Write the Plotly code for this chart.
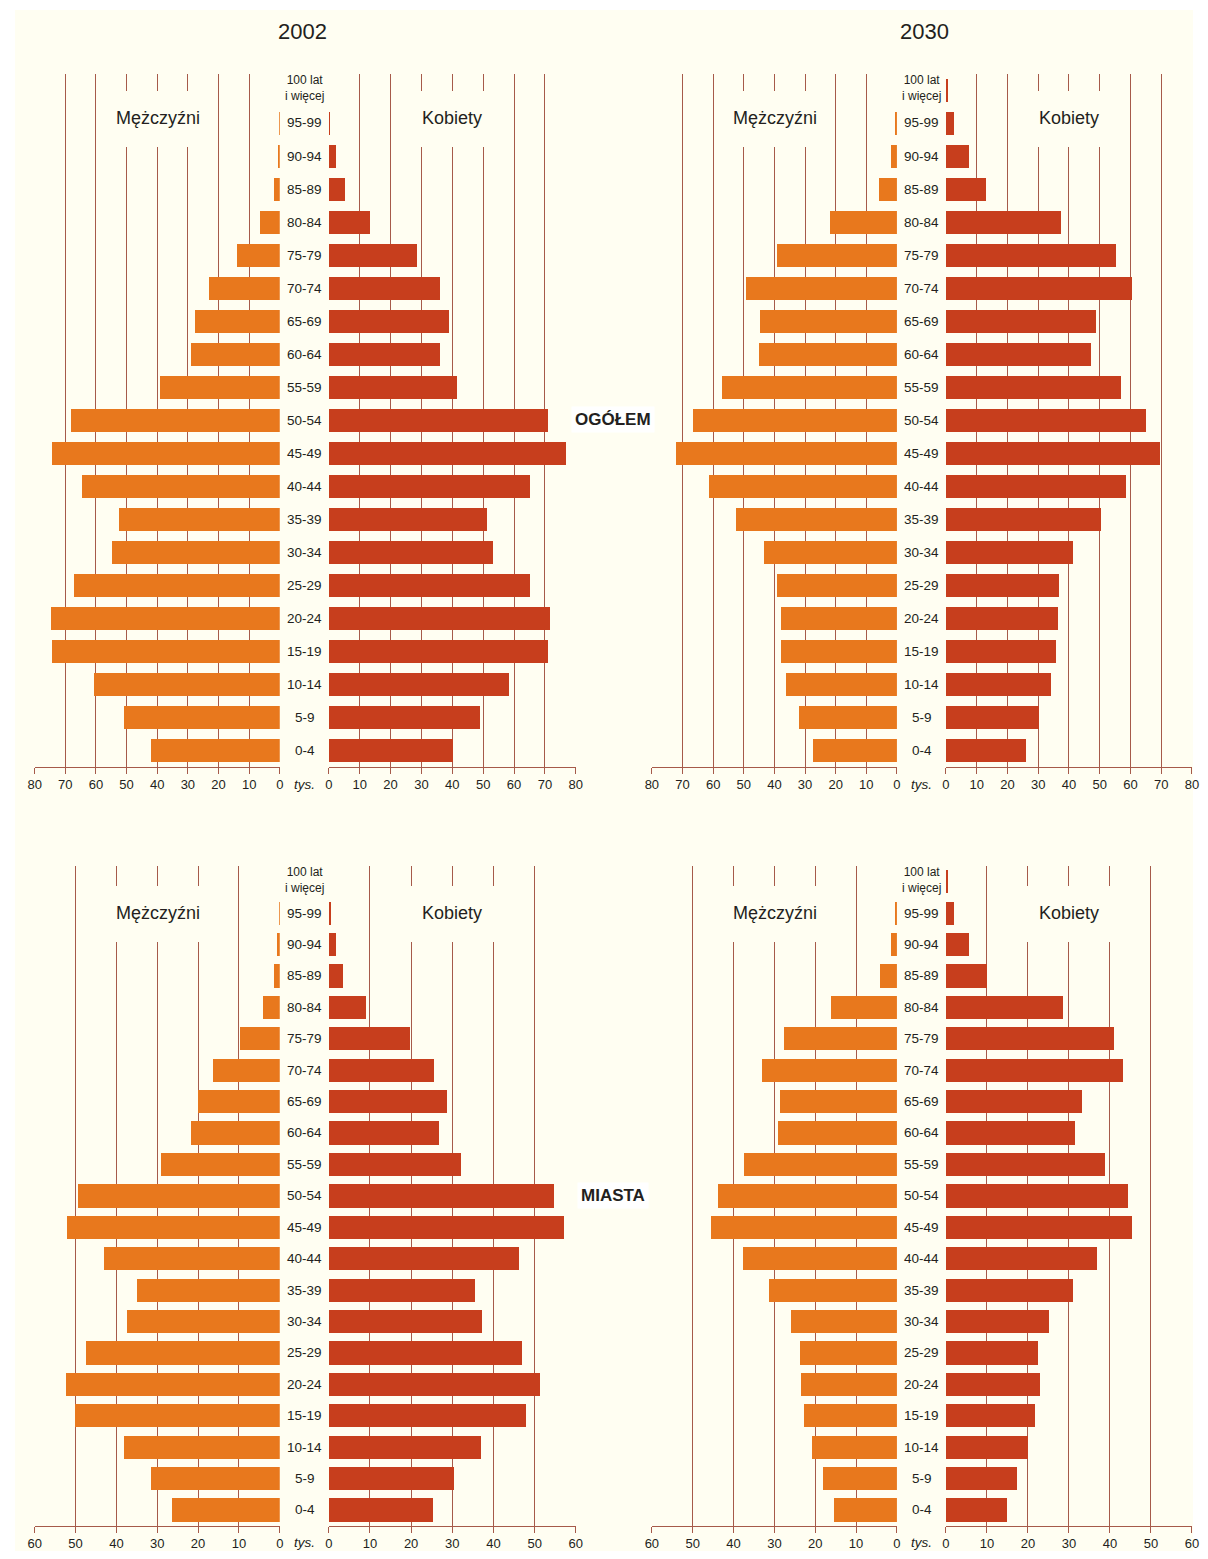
import plotly.graph_objects as go

PAGE_W, PAGE_H = 1208, 1559
OFF = 8  # browser body margin
W, H = PAGE_W - 2 * OFF, PAGE_H - 2 * OFF
# observed horizontal render transform (screen = SX * page + TX)
SX, TX = 0.988, 7.4

ages = ["0-4", "5-9", "10-14", "15-19", "20-24", "25-29", "30-34", "35-39", "40-44",
        "45-49", "50-54", "55-59", "60-64", "65-69", "70-74", "75-79", "80-84",
        "85-89", "90-94", "95-99", "100 lat i więcej"]
age_labels = ages[:-1] + ["100 lat<br>i więcej"]

# values in thousands, ordered from 0-4 to 100+
ogolem_2002_m = [42.2, 51.0, 60.8, 74.4, 74.7, 67.3, 54.9, 52.6, 64.6, 74.4, 68.2,
                 39.3, 29.2, 27.9, 23.3, 14.0, 6.4, 1.9, 0.6, 0.2, 0.0]
ogolem_2002_k = [40.1, 49.0, 58.4, 70.9, 71.6, 65.2, 53.2, 51.3, 65.2, 76.7, 70.9,
                 41.5, 35.8, 39.0, 36.0, 28.4, 13.2, 5.1, 2.3, 0.2, 0.0]
ogolem_2030_m = [27.3, 31.9, 36.1, 37.8, 38.0, 39.1, 43.3, 52.6, 61.5, 72.2, 66.7,
                 57.2, 45.2, 44.8, 49.4, 39.1, 21.8, 5.9, 1.9, 0.6, 0.0]
ogolem_2030_k = [26.0, 30.2, 34.0, 35.7, 36.3, 36.7, 41.2, 50.5, 58.6, 69.5, 65.1,
                 57.0, 47.0, 48.9, 60.6, 55.4, 37.3, 13.1, 7.6, 2.7, 0.5]
miasta_2002_m = [26.5, 31.7, 38.3, 50.2, 52.4, 47.6, 37.5, 35.1, 43.1, 52.2, 49.5,
                 29.2, 21.7, 20.2, 16.5, 9.9, 4.3, 1.4, 0.7, 0.2, 0.0]
miasta_2002_k = [25.2, 30.3, 37.0, 47.9, 51.3, 46.9, 37.2, 35.5, 46.2, 57.1, 54.7,
                 32.0, 26.6, 28.6, 25.4, 19.6, 9.0, 3.4, 1.7, 0.4, 0.0]
miasta_2030_m = [15.5, 18.1, 20.8, 22.7, 23.5, 23.7, 26.0, 31.3, 37.8, 45.6, 43.8,
                 37.4, 29.1, 28.6, 33.0, 27.7, 16.2, 4.2, 1.5, 0.4, 0.0]
miasta_2030_k = [14.9, 17.3, 20.0, 21.8, 22.8, 22.4, 25.0, 31.0, 36.9, 45.3, 44.3,
                 38.7, 31.5, 33.2, 43.1, 41.0, 28.6, 10.0, 5.7, 2.0, 0.4]

years = ["2002", "2030"]
sections = ["OGÓŁEM", "MIASTA"]
axis_max = [80, 60]
tick_vals_top = [0, 10, 20, 30, 40, 50, 60, 70, 80]
tick_vals_bot = [0, 10, 20, 30, 40, 50, 60]
men_label = "Mężczyźni"
women_label = "Kobiety"
unit_label = "tys."

MALE = "#E8781D"
FEMALE = "#C73E1D"
BG = "#FFFEF2"
GRID = "#A65A4A"
TXT = "#231F20"
FONT = "Liberation Sans Narrow, Arial Narrow, Liberation Sans, Arial, sans-serif"


def px(x):
    return ((x - TX) / SX - OFF) / W


def py(y):
    return 1 - (y - OFF) / H


fig = go.Figure()

# panel geometry in reference pixels
col_male = [(35, 280), (652, 897)]
col_fem = [(329, 576), (946, 1192)]
col_center = [305, 922]
row_dom = [(766.5, 73.5), (1525.7, 865.9)]
row_label_y = [118, 913]
row_tick_y = [784, 1542]

panels = [
    (0, 0, ogolem_2002_m, ogolem_2002_k),
    (0, 1, ogolem_2030_m, ogolem_2030_k),
    (1, 0, miasta_2002_m, miasta_2002_k),
    (1, 1, miasta_2030_m, miasta_2030_k),
]

layout = {}
shapes = []
annotations = []
bar_width = [0.71, 0.74]


def ann(text, x, y, size, xref="paper", yref="paper", family=FONT, **kw):
    d = dict(text=text, xref=xref, yref=yref, x=x, y=y, showarrow=False,
             xanchor="center", yanchor="middle",
             font=dict(family=family, size=size, color=TXT))
    d.update(kw)
    return d


for i, (r, c, mvals, kvals) in enumerate(panels):
    xm = 2 * i + 1
    xk = 2 * i + 2
    yi = i + 1
    xm_name = "x" if xm == 1 else f"x{xm}"
    xk_name = f"x{xk}"
    y_name = "y" if yi == 1 else f"y{yi}"
    amax = axis_max[r]
    tv = tick_vals_top if r == 0 else tick_vals_bot
    fig.add_trace(go.Bar(y=list(range(len(ages))), x=mvals, orientation="h",
                         marker=dict(color=MALE, line=dict(width=0)), width=bar_width[r],
                         xaxis=xm_name, yaxis=y_name, hoverinfo="x+y",
                         name=men_label, showlegend=False))
    fig.add_trace(go.Bar(y=list(range(len(ages))), x=kvals, orientation="h",
                         marker=dict(color=FEMALE, line=dict(width=0)), width=bar_width[r],
                         xaxis=xk_name, yaxis=y_name, hoverinfo="x+y",
                         name=women_label, showlegend=False))
    common = dict(showgrid=True, gridcolor=GRID, gridwidth=1, zeroline=False,
                  showline=True, linecolor=GRID, linewidth=1, ticks="outside",
                  ticklen=6, tickcolor=GRID, tickvals=tv,
                  tickfont=dict(family=FONT, size=13, color=TXT), anchor=y_name,
                  fixedrange=True)
    layout["xaxis" if xm == 1 else f"xaxis{xm}"] = dict(
        common, domain=[px(col_male[c][0]), px(col_male[c][1])], range=[amax, 0])
    layout[f"xaxis{xk}"] = dict(
        common, domain=[px(col_fem[c][0]), px(col_fem[c][1])], range=[0, amax])
    layout["yaxis" if yi == 1 else f"yaxis{yi}"] = dict(
        domain=[py(row_dom[r][0]), py(row_dom[r][1])], range=[-0.5, 20.5],
        showgrid=False, zeroline=False, showticklabels=False, showline=False,
        anchor=xm_name, fixedrange=True)

    # label masks over grid lines (between grid and bars)
    scale_m = (col_male[c][1] - col_male[c][0]) / amax
    scale_k = (col_fem[c][1] - col_fem[c][0]) / amax
    y_top, y_bot = row_dom[r][1], row_dom[r][0]
    step = (y_bot - y_top) / 21.0

    def yval(p):
        return (y_bot - p) / step - 0.5

    ly = row_label_y[r]
    mcx = col_male[c][0] + 123
    kcx = col_fem[c][0] + 123
    shapes.append(dict(type="rect", xref=xm_name, yref=y_name, layer="between",
                       x0=(col_male[c][1] - (mcx - 46)) / scale_m,
                       x1=(col_male[c][1] - (mcx + 46)) / scale_m,
                       y0=yval(ly + 29), y1=yval(ly - 27),
                       fillcolor=BG, line=dict(width=0)))
    shapes.append(dict(type="rect", xref=xk_name, yref=y_name, layer="between",
                       x0=((kcx - 44) - col_fem[c][0]) / scale_k,
                       x1=((kcx + 44) - col_fem[c][0]) / scale_k,
                       y0=yval(ly + 29), y1=yval(ly - 27),
                       fillcolor=BG, line=dict(width=0)))

    annotations.append(ann(men_label, px(mcx), py(ly), 18))
    annotations.append(ann(women_label, px(kcx), py(ly), 18))
    # age labels
    for j, lab in enumerate(age_labels):
        two = "<br>" in lab
        annotations.append(ann(lab, px(col_center[c]), j, 12 if two else 13.5,
                               yref=y_name, yshift=2 if two else 0))
    annotations.append(ann(f"<i>{unit_label}</i>", px(col_center[c]),
                           py(row_tick_y[r]), 13.5))

for c, yr in enumerate(years):
    annotations.append(ann(yr, px([303, 925][c]), py(32), 22,
                           family="Liberation Sans, Arial, sans-serif"))

for r, sec in enumerate(sections):
    annotations.append(ann(f"<b>{sec}</b>", px(613), py([419, 1195][r]), 17,
                           family="Liberation Sans, Arial, sans-serif",
                           bgcolor="#FFFFFF", borderpad=3))

# cream background area
shapes.insert(0, dict(type="rect", xref="paper", yref="paper", layer="below",
                      x0=max(px(10), 0), x1=1, y0=0, y1=py(10),
                      fillcolor=BG, line=dict(width=0)))

fig.update_layout(**layout)
fig.update_layout(width=W, height=H, margin=dict(l=0, r=0, t=0, b=0),
                  paper_bgcolor="#FFFFFF", plot_bgcolor="rgba(0,0,0,0)",
                  shapes=shapes, annotations=annotations, bargap=0,
                  barmode="overlay", showlegend=False)

fig.write_html("out.html")
